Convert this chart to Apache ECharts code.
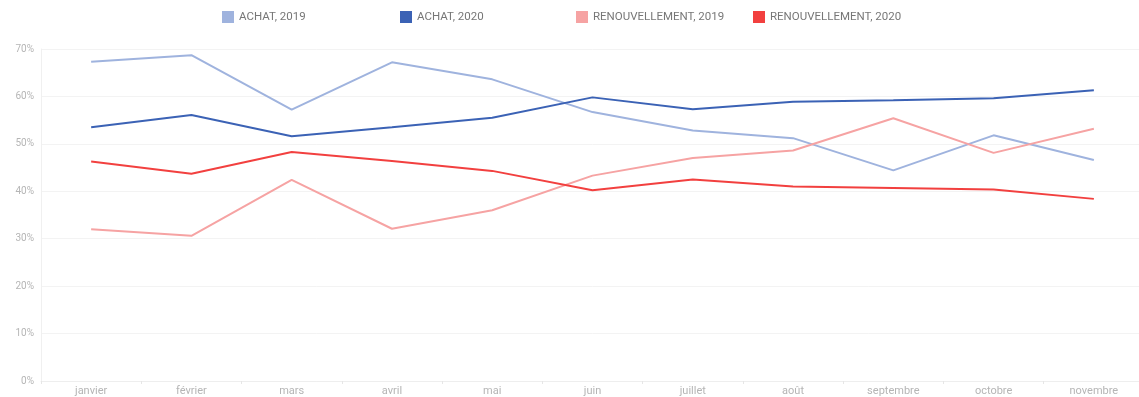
<!DOCTYPE html>
<html>
<head>
<meta charset="utf-8">
<script src="https://cdn.jsdelivr.net/npm/echarts@6/dist/echarts.min.js"></script>
<style>
  html, body { margin: 0; padding: 0; background: #fff; overflow: hidden; }
  /* slightly wider than the window so the last band runs past the right edge */
  #chart { width: 1144px; height: 397px; }
</style>
</head>
<body>
<div id="chart"></div>
<script>
// Months shown on the category axis
const months = ['janvier', 'février', 'mars', 'avril', 'mai', 'juin', 'juillet', 'août', 'septembre', 'octobre', 'novembre'];

// Monthly shares, in percent
const achat2019 = [67.3, 68.7, 57.2, 67.2, 63.6, 56.7, 52.8, 51.2, 44.4, 51.8, 46.6];
const achat2020 = [53.5, 56.1, 51.6, 53.5, 55.5, 59.8, 57.3, 58.9, 59.2, 59.6, 61.3];
const renouv2019 = [32.0, 30.6, 42.4, 32.1, 36.0, 43.3, 47.0, 48.6, 55.4, 48.1, 53.2];
const renouv2020 = [46.3, 43.7, 48.3, 46.4, 44.3, 40.2, 42.5, 41.0, 40.7, 40.4, 38.4];

// Value axis ticks
const yMin = 0, yMax = 70, yStep = 10;

const seriesDefs = [
  { name: 'ACHAT, 2019', data: achat2019, color: '#9fb3de' },
  { name: 'ACHAT, 2020', data: achat2020, color: '#3b62b5' },
  { name: 'RENOUVELLEMENT, 2019', data: renouv2019, color: '#f6a3a3' },
  { name: 'RENOUVELLEMENT, 2020', data: renouv2020, color: '#f2403f' }
];

const legendLefts = [222, 400, 576, 753];

const chart = echarts.init(document.getElementById('chart'), null, { renderer: 'canvas' });

chart.setOption({
  animation: false,
  backgroundColor: '#ffffff',
  textStyle: { fontFamily: 'Roboto, "Noto Sans", sans-serif' },
  legend: seriesDefs.map((s, i) => ({
    data: [s.name],
    left: legendLefts[i],
    top: 11,
    padding: 0,
    icon: 'rect',
    itemWidth: 12,
    itemHeight: 12,
    itemGap: 0,
    textStyle: { fontSize: 11.5, color: '#777' },
    selectedMode: false
  })),
  grid: { left: 41, right: 0, top: 49, bottom: 16, containLabel: false },
  xAxis: {
    type: 'category',
    data: months,
    boundaryGap: true,
    axisLine: { show: true, lineStyle: { color: '#eeeeee', width: 1 } },
    axisTick: { show: true, length: 3, lineStyle: { color: '#e6e6e6' } },
    axisLabel: { color: '#b5b5b5', fontSize: 11, margin: 5 },
    splitLine: { show: false }
  },
  yAxis: {
    type: 'value',
    min: yMin,
    max: yMax,
    interval: yStep,
    axisLine: { show: true, lineStyle: { color: '#f0f0f0', width: 1 } },
    axisTick: { show: false },
    axisLabel: { color: '#b5b5b5', fontSize: 10, margin: 7, formatter: '{value}%' },
    splitLine: { show: true, lineStyle: { color: '#f3f3f3', width: 1 } }
  },
  series: seriesDefs.map(s => ({
    name: s.name,
    type: 'line',
    data: s.data,
    symbol: 'none',
    smooth: false,
    itemStyle: { color: s.color },
    lineStyle: { color: s.color, width: 2 }
  }))
});
</script>
</body>
</html>
